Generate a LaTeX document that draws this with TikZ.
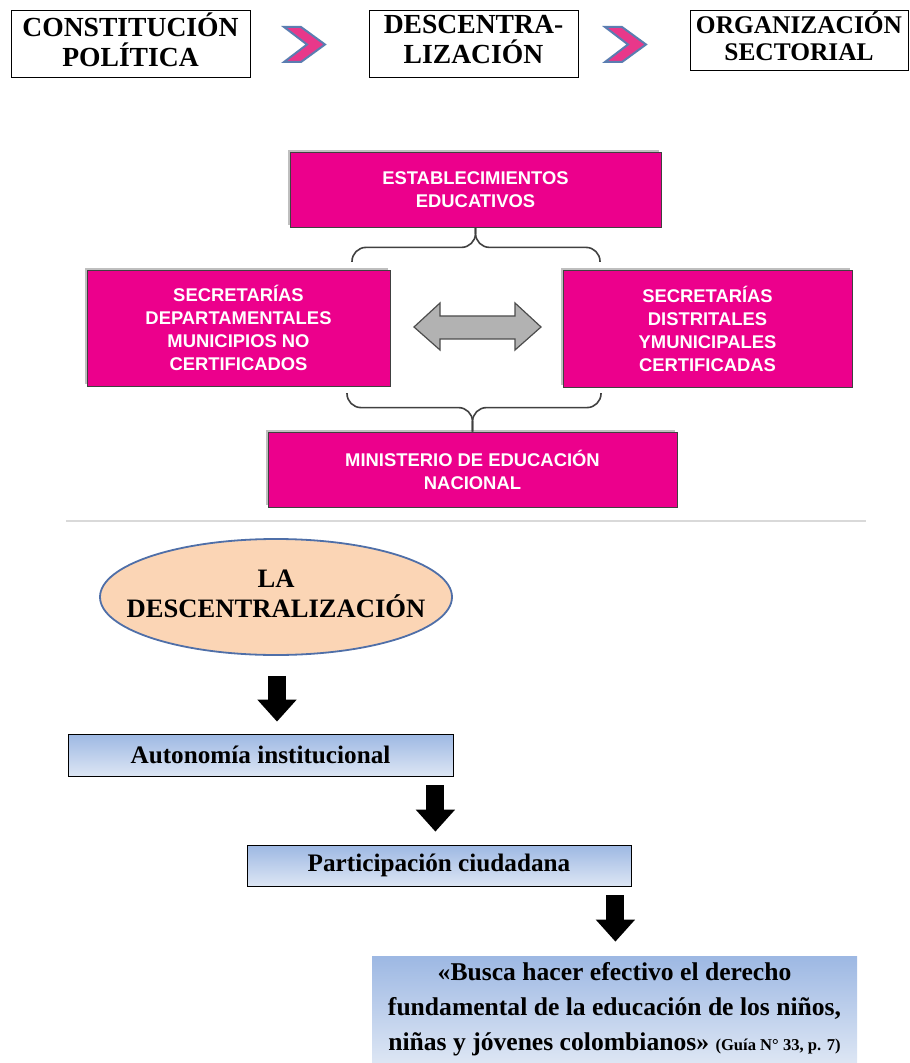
\documentclass[tikz,border=0pt]{standalone}
\usepackage{fontspec}
\setmainfont{Liberation Serif}
\setsansfont{Liberation Sans}
\usepackage{xcolor}
\definecolor{hot-pink}{HTML}{EC008C}
\definecolor{chev-pink}{HTML}{E8388A}
\definecolor{chev-blue}{HTML}{5B7DB1}
\definecolor{peach}{HTML}{FBD5B5}
\definecolor{oval-blue}{HTML}{4F6FA8}
\definecolor{sky-top}{HTML}{9DB8E3}
\definecolor{sky-bot}{HTML}{DDE6F4}
\usepackage{tikz}
\usetikzlibrary{calc}
\usetikzlibrary{shadows}
\usetikzlibrary{arrows.meta}
\usetikzlibrary{shapes.geometric}
\tikzset{titlebox/.style = {draw, thin, align=center, text centered, inner sep=0pt, text depth=4pt,
  font=\bfseries\fontsize{13.8}{15}\selectfont}}
\tikzset{pinkbox/.style = {draw=black!75, fill=hot-pink, align=center, text centered, inner sep=0pt,
  text=white, font=\sffamily\bfseries\fontsize{9.2}{11.5}\selectfont,
  general shadow={fill=black!25, shadow xshift=-1.2pt, shadow yshift=1.2pt}}}
\tikzset{bluebox/.style = {draw, thin, top color=sky-top, bottom color=sky-bot, align=center,
  text centered, inner sep=0pt, font=\bfseries\fontsize{12.6}{14}\selectfont}}
\tikzset{chev/.style = {fill=chev-pink, draw=chev-blue, line width=1pt, line join=miter}}
\tikzset{brace/.style = {draw=black!75, line width=0.8pt, rounded corners=7pt}}
\tikzset{blockarr/.style = {line width=9pt, -{Triangle[length=11pt, width=19pt]}}}

\begin{document}
\begin{tikzpicture}[x=0.5pt, y=-0.5pt]
\useasboundingbox (0,0) rectangle (909,1063);

% top row
\node[titlebox, minimum width=119.5pt, minimum height=33.5pt] (cons) at (130.5,43.5) {CONSTITUCIÓN\\POLÍTICA};
\node[titlebox, minimum width=104.5pt, minimum height=33.5pt] (desc) at (473.5,43.5) {DESCENTRA-\\LIZACIÓN};
\node[titlebox, minimum width=109pt, minimum height=30pt,
  font=\bfseries\fontsize{12.7}{13.5}\selectfont] (org) at (799,40) {ORGANIZACIÓN\\SECTORIAL};
\foreach \cx in {304,625}
  \draw[chev] ({\cx-20},27) -- ({\cx-3},27) -- ({\cx+21},44.5) -- ({\cx-3},62)
    -- ({\cx-20},62) -- ({\cx+3},44.5) -- cycle;

% pink structure
\node[pinkbox, minimum width=185.5pt, minimum height=37.5pt] (est) at (475.5,189.5) {ESTABLECIMIENTOS\\EDUCATIVOS};
\node[pinkbox, minimum width=151.5pt, minimum height=58pt] (sdep) at (238.5,328) {SECRETARÍAS\\DEPARTAMENTALES\\MUNICIPIOS NO\\CERTIFICADOS};
\node[pinkbox, minimum width=144.5pt, minimum height=58.5pt] (sdis) at (707.5,328.5) {SECRETARÍAS\\DISTRITALES\\YMUNICIPALES\\CERTIFICADAS};
\node[pinkbox, minimum width=204.5pt, minimum height=37.5pt] (men) at (472.5,469.5) {MINISTERIO DE EDUCACIÓN\\NACIONAL};

\draw[brace] (352,262) |- ($(est.south)+(0,20)$) -- (est.south);
\draw[brace] (600,262) |- ($(est.south)+(0,20)$) -- (est.south);
\draw[brace] (347,393) |- ($(men.north)+(0,-24)$) -- (men.north);
\draw[brace] (601,393) |- ($(men.north)+(0,-24)$) -- (men.north);

\draw[fill=black!30, draw=black!70, line width=0.6pt] (414,327) -- (440,303) -- (440,316) -- (515,316)
  -- (515,303) -- (541,327) -- (515,350) -- (515,339) -- (440,339) -- (440,350) -- cycle;

\draw[black!15, line width=0.6pt] (66,521) -- (866,521);

% lower flow
\node[ellipse, draw=oval-blue, line width=0.9pt, fill=peach, minimum width=176pt, minimum height=58pt,
  inner sep=0pt, font=\bfseries\fontsize{13.3}{14.5}\selectfont] (ell) at (276,597)
  {\makebox[0pt]{\renewcommand\arraystretch{0.8}\begin{tabular}{@{}c@{}}LA\\DESCENTRALIZACIÓN\end{tabular}}};
\node[bluebox, minimum width=192.5pt, minimum height=21pt] (auto) at (260.5,755) {Autonomía institucional};
\node[bluebox, minimum width=192pt, minimum height=20.5pt] (part) at (439,865.5) {Participación ciudadana};
\node[bluebox, draw=none, minimum width=242.5pt, minimum height=53.5pt,
  font=\bfseries\fontsize{12.8}{17.5}\selectfont] (quote) at (614.5,1009.5)
  {«Busca hacer efectivo el derecho\\fundamental de la educación de los niños,\\niñas y jóvenes colombianos» {\fontsize{8.3}{9}\selectfont(Guía N° 33, p. 7)}};

\draw[blockarr] ($(ell.south)+(1,20)$) -- ($(ell.south |- auto.north)+(1,-12)$);
\draw[blockarr] ($(auto.south east)+(-18,9)$) -- ($(auto.south east |- part.north)+(-18,-13)$);
\draw[blockarr] ($(part.south east)+(-16,9)$) -- ($(part.south east |- quote.north)+(-16,-14)$);

\end{tikzpicture}
\end{document}
